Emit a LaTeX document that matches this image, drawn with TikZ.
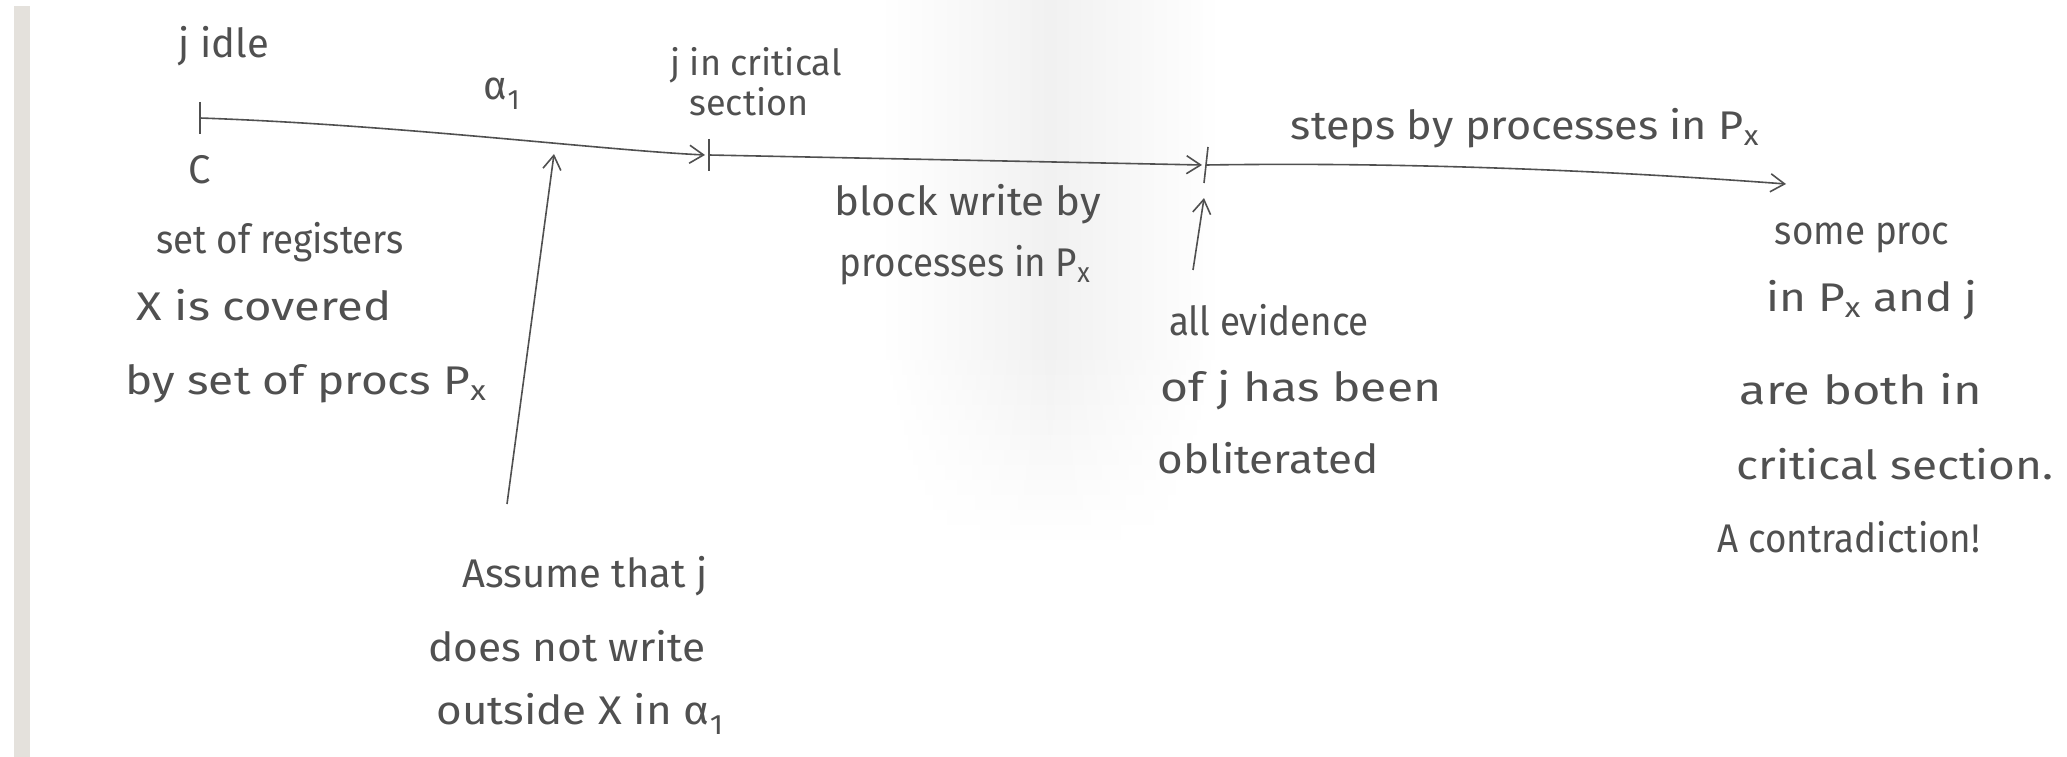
\documentclass[tikz,border=0pt]{standalone}
\usepackage{fontspec}
\setmainfont{Fira Sans}
\usetikzlibrary{arrows.meta,calc,fadings}
\definecolor{pencil}{RGB}{80,80,80}
\definecolor{strip}{RGB}{228,225,220}
\definecolor{scan}{RGB}{241,241,241}
\tikzfading[name=band, left color=transparent!100, right color=transparent!100, middle color=transparent!0]
\tikzset{
  hand/.style={font=\fontsize{40}{44}\selectfont, text=pencil, inner sep=0pt, anchor=center},
  tick/.style={draw=pencil, line width=1.6pt},
  harrow/.style={draw=pencil, line width=1.6pt, -{Straight Barb[length=14pt,width=18pt,line width=1.6pt]}},
  scanband/.style={fill=scan, draw=none, path fading=band},
}
\newcommand{\Px}{P\textsubscript{x}}
\newcommand{\hs}[2]{\scalebox{#1}[1]{#2}}
\begin{document}
\begin{tikzpicture}[x=1pt,y=-1pt]
\useasboundingbox (0,0) rectangle (2067,757);
% scan artefacts
\fill[strip] (14,6) rectangle (30,757);
\path[scanband] (880,0) rectangle (1220,360);
\foreach \i in {1,...,12} {
  \pgfmathsetmacro{\op}{1-\i/13}
  \path[scanband, fill opacity=\op] (880+3*\i,360+15*\i-15) rectangle (1220-3*\i,360+15*\i);
}
% timeline points
\coordinate (t1) at (200,118);
\coordinate (t2) at (709,155);
\coordinate (t3) at (1206,165);
\coordinate (tend) at (1786,184);
% ticks
\draw[tick] ($(t1)+(0,-16)$) -- ($(t1)+(0,16)$);
\draw[tick] ($(t2)+(0,-16)$) -- ($(t2)+(0,16)$);
\draw[tick] ($(t3)+(2,-18)$) -- ($(t3)+(-2,18)$);
% timeline segments
\draw[harrow] (t1) .. controls (400,125) and (600,150) .. ($(t2)+(-4,0)$);
\draw[harrow] (t2) -- ($(t3)+(-4,0)$);
\draw[harrow] (t3) .. controls (1400,162) and (1600,170) .. (tend);
% labels on timeline
\node[hand] (jidle) at (224,46) {j idle};
\node[hand] (alpha) at (502,94) {α\textsubscript{1}};
\node[hand, align=left, font=\fontsize{36}{40}\selectfont] (jcrit) at (756,82) {j in critical\\\ \ section};
\node[hand] (C) at (200,170) {C};
\node[hand] (steps) at (1525,128) {\hs{1.08}{steps by processes in \Px}};
% left text
\node[hand] (reg1) at (280,242) {\hs{0.92}{set of registers}};
\node[hand] (reg2) at (264,305) {\hs{1.18}{X is covered}};
\node[hand] (reg3) at (306,384) {\hs{1.15}{by set of procs \Px}};
% assume
\coordinate (a1s) at (507,504);
\coordinate (a1e) at (554,154);
\draw[harrow] (a1s) -- (a1e);
\node[hand] (as1) at (585,576) {Assume that j};
\node[hand] (as2) at (567,646) {\hs{1.06}{does not write}};
\node[hand] (as3) at (580,714) {\hs{1.1}{outside X in α\textsubscript{1}}};
% block write
\node[hand] (bw1) at (968,204) {\hs{1.05}{block write by}};
\node[hand] (bw2) at (965,265) {\hs{0.92}{processes in \Px}};
% evidence
\coordinate (a2s) at (1193,270);
\coordinate (a2e) at (1204,198);
\draw[harrow] (a2s) -- (a2e);
\node[hand] (ev1) at (1269,320) {\hs{0.92}{all evidence}};
\node[hand] (ev2) at (1301,390) {\hs{1.2}{of j has been}};
\node[hand] (ev3) at (1268,458) {\hs{1.1}{obliterated}};
% conclusion
\node[hand] (c1) at (1862,238) {\hs{0.92}{some proc}};
\node[hand] (c2) at (1872,300) {\hs{1.15}{in \Px{} and j}};
\node[hand] (c3) at (1861,389) {\hs{1.22}{are both in}};
\node[hand] (c4) at (1895,464) {\hs{1.15}{critical section.}};
\node[hand] (c5) at (1849,537) {\hs{0.92}{A contradiction!}};
\end{tikzpicture}
\end{document}
